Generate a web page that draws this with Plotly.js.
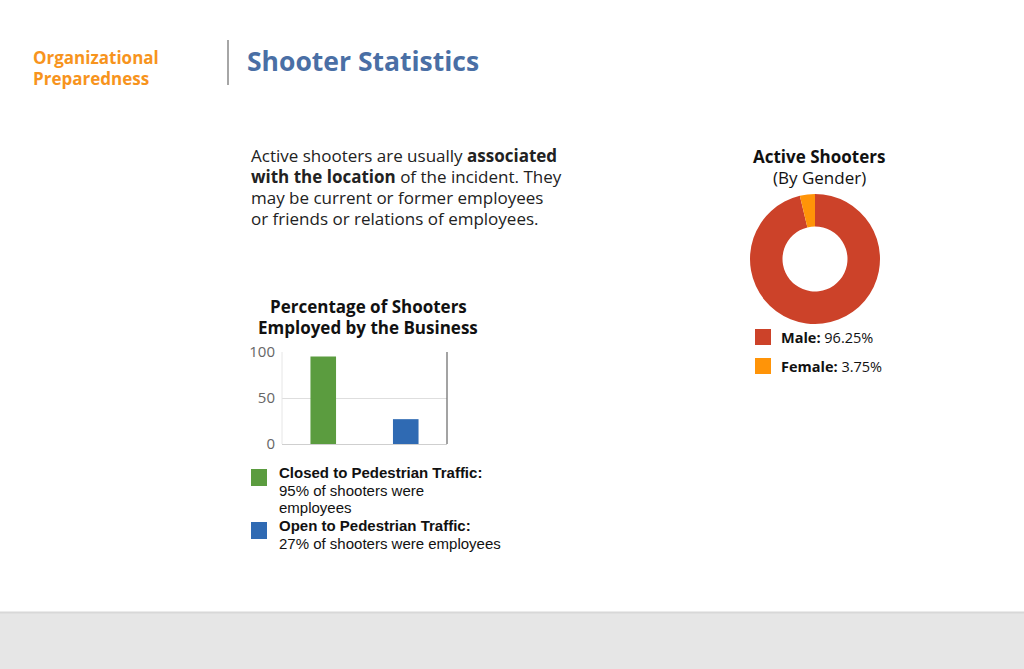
<!DOCTYPE html>
<html><head><meta charset="utf-8">
<script src="https://cdn.plot.ly/plotly-3.0.1.min.js"></script>
<style>html,body{margin:0;padding:0;background:#fff;}#c{width:1024px;height:669px;}</style>
</head><body><div id="c"></div>
<script>
const barCategories = ["Closed to Pedestrian Traffic", "Open to Pedestrian Traffic"];
const barValues = [95, 27];
const barColors = ["#5b9c3f", "#2f6ab3"];
const barLegendLines = [["95% of shooters were", "employees"], ["27% of shooters were employees"]];
const yTicks = [0, 50, 100];

const genderLabels = ["Male", "Female"];
const genderValues = [96.25, 3.75];
const genderColors = ["#cc4229", "#ff9408"];

const W = 1024, H = 669;
const px = x => x / W, py = y => 1 - y / H;

const traces = [
  {type: "bar", x: barCategories, y: barValues, marker: {color: barColors}, xaxis: "x", yaxis: "y", hoverinfo: "none", showlegend: false},
  {type: "pie", labels: genderLabels, values: genderValues, marker: {colors: genderColors},
   hole: 0.5, sort: false, direction: "clockwise", rotation: 0, textinfo: "none", hoverinfo: "none",
   showlegend: false, domain: {x: [px(750), px(880)], y: [py(324), py(194)]}}
];

const ann = [];
const font = "Open Sans, sans-serif";
function txt(x, y, text, size, color, opts) {
  ann.push(Object.assign({xref: "paper", yref: "paper", x: px(x), y: py(y), text: text, showarrow: false,
    xanchor: "left", yanchor: "middle", font: {family: font, size: size, color: color}}, opts || {}));
}
txt(31, 57, "<b>Organizational</b>", 17, "#f7941d");
txt(31, 79, "<b>Preparedness</b>", 17, "#f7941d");
txt(245, 61, "<b>Shooter Statistics</b>", 26.5, "#4a6fa5");
const para = ["Active shooters are usually <b>associated</b>", "<b>with the location</b> of the incident. They",
  "may be current or former employees", "or friends or relations of employees."];
para.forEach((l, i) => txt(249, 155.5 + i * 21, l, 17, "#222"));
txt(368, 306, "<b>Percentage of Shooters</b>", 17, "#111", {xanchor: "center"});
txt(368, 328, "<b>Employed by the Business</b>", 17, "#111", {xanchor: "center"});
txt(819, 156, "<b>Active Shooters</b>", 17, "#111", {xanchor: "center"});
txt(819, 177, "(By Gender)", 17, "#111", {xanchor: "center"});

const shapes = [
  {type: "rect", xref: "paper", yref: "paper", x0: 0, x1: 1, y0: 0, y1: py(612), fillcolor: "#e6e6e6", line: {width: 0}, layer: "below"},
  {type: "line", xref: "paper", yref: "paper", x0: 0, x1: 1, y0: py(612.5), y1: py(612.5), line: {color: "#d8d8d8", width: 2}},
  {type: "line", xref: "paper", yref: "paper", x0: px(228), x1: px(228), y0: py(40), y1: py(85), line: {color: "#888", width: 1.5}},
  {type: "line", xref: "x domain", yref: "y domain", x0: 0, x1: 0, y0: 0, y1: 1, line: {color: "#e6e6e6", width: 1}},
  {type: "line", xref: "x domain", yref: "y domain", x0: 1, x1: 1, y0: 0, y1: 1, line: {color: "#666", width: 1.2}}
];

// bar legend
const barLegY = [469, 522];
const lf = "Liberation Sans, Arial, sans-serif";
barCategories.forEach((c, i) => {
  shapes.push({type: "rect", xref: "paper", yref: "paper", x0: px(251), x1: px(267), y0: py(barLegY[i] + 17), y1: py(barLegY[i]), fillcolor: barColors[i], line: {width: 0}});
  txt(277, barLegY[i] + 3, "<b>" + c + ":</b>", 15, "#111", {font: {family: lf, size: 15, color: "#111"}});
  barLegendLines[i].forEach((l, j) => txt(277, barLegY[i] + 21 + j * 17.5, l, 15, "#111", {font: {family: lf, size: 15, color: "#111"}}));
});
// pie legend
const pieLegY = [337, 366];
genderLabels.forEach((g, i) => {
  shapes.push({type: "rect", xref: "paper", yref: "paper", x0: px(755), x1: px(771), y0: py(pieLegY[i] + 8), y1: py(pieLegY[i] - 8), fillcolor: genderColors[i], line: {width: 0}});
  txt(779, pieLegY[i], "<b>" + g + ":</b> " + genderValues[i] + "%", 14.5, "#111");
});

const layout = {
  width: W, height: H, margin: {l: 0, r: 0, t: 0, b: 0}, paper_bgcolor: "#fff", plot_bgcolor: "#fff",
  showlegend: false, bargap: 0.69,
  xaxis: {domain: [px(282), px(447)], range: [-0.5, 1.5], showticklabels: false, ticks: "", showgrid: false,
    zeroline: false, showline: true, linecolor: "#cfcfcf", fixedrange: true},
  yaxis: {domain: [py(444), py(352)], range: [0, 100], tickvals: yTicks, ticks: "", showgrid: true, gridcolor: "#dedede",
    zeroline: false, showline: false, ticklabelstandoff: 6, tickfont: {family: font, size: 15, color: "#666"}, fixedrange: true},
  annotations: ann, shapes: shapes
};
Plotly.newPlot("c", traces, layout, {displayModeBar: false, staticPlot: true});
</script></body></html>
